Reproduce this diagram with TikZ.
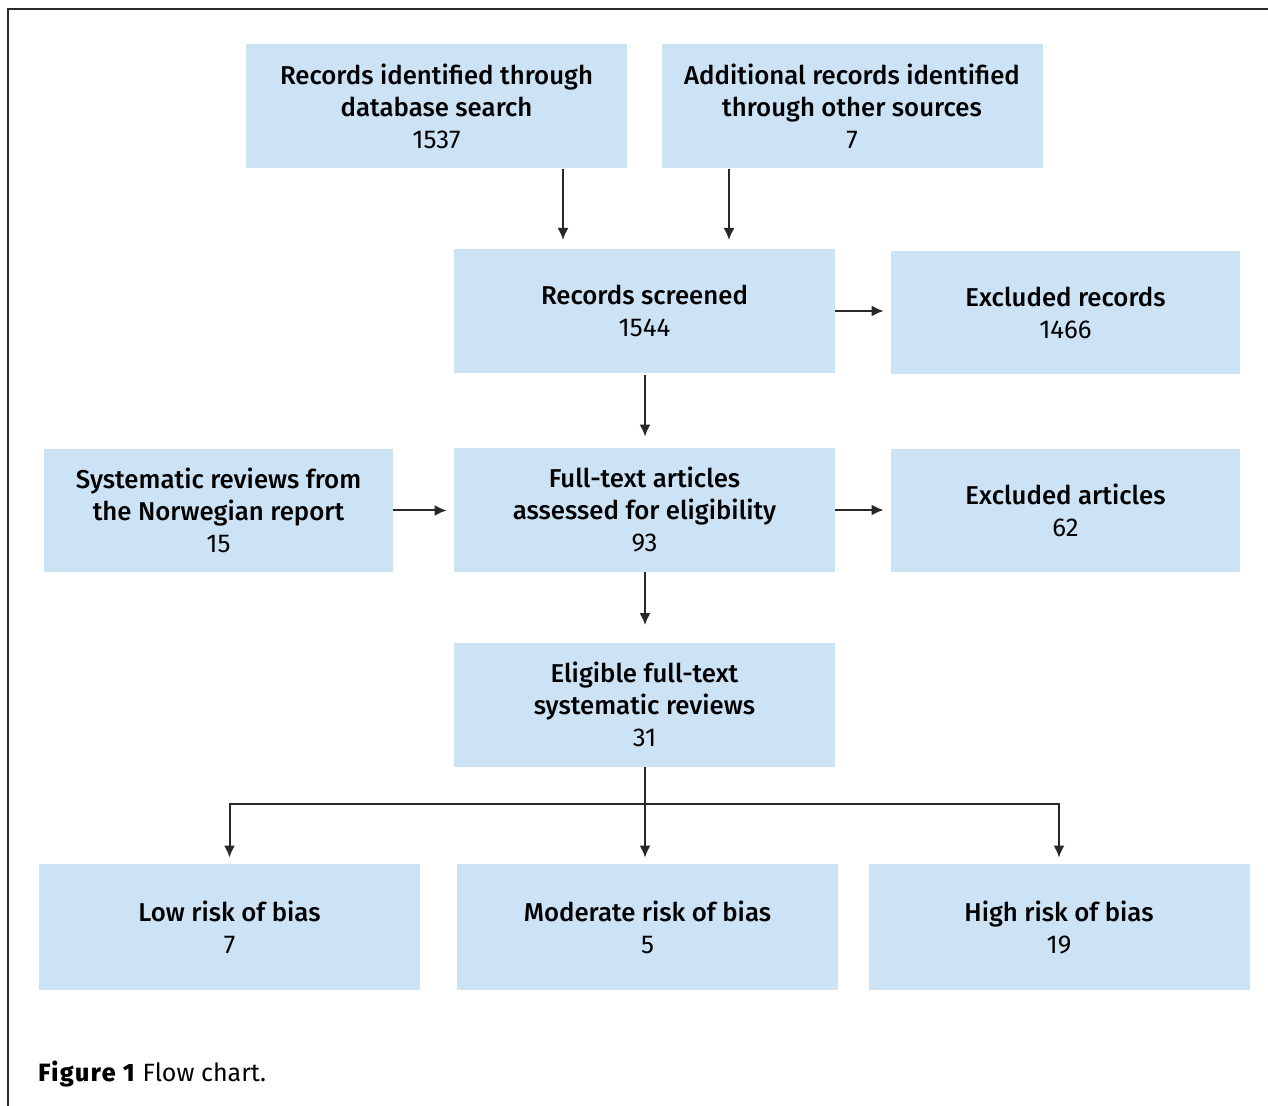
\documentclass[tikz,border=0pt]{standalone}
\usepackage{fontspec}
\setmainfont{Fira Sans}
\newfontfamily\semifont{Fira Sans Medium}
\newfontfamily\capfont{Fira Sans ExtraBold}[LetterSpace=6]
\usetikzlibrary{arrows.meta}
\definecolor{boxblue}{RGB}{204,226,245}
\definecolor{linegray}{RGB}{40,40,40}
\begin{document}
\begin{tikzpicture}[x=0.5pt,y=-0.5pt]
  % Define styles for boxes and arrows
  \tikzset{
    flow box/.style={fill=boxblue, inner sep=0pt, align=center,
      font=\semifont\fontsize{12.9}{16}\selectfont},
    wide box/.style={flow box, minimum width=190.5pt, minimum height=62pt},
    narrow box/.style={flow box, minimum width=174.5pt, minimum height=61.5pt},
    flow arrow/.style={draw=linegray, line width=1pt, -{Latex[length=6pt,width=5.5pt]}},
    frame line/.style={draw=linegray, line width=0.7pt}
  }
  \useasboundingbox (0,0) rectangle (1268,1106);
  \draw[frame line] (8,1106) -- (8,9) -- (1268,9);

  % Top row
  \node[wide box] (rec db) at (436.5,106.5) {Records identified through\\database search\\{\normalfont 1537}};
  \node[wide box] (rec other) at (852,106.5) {Additional records identified\\through other sources\\{\normalfont 7}};

  % Screening
  \node[wide box] (screened) at (644.5,311) {Records screened\\{\normalfont 1544}};
  \node[narrow box] (excl rec) at (1065.5,312.5) {Excluded records\\{\normalfont 1466}};

  % Eligibility
  \node[narrow box] (norway) at (218.5,510.5) {Systematic reviews from\\the Norwegian report\\{\normalfont 15}};
  \node[wide box] (fulltext) at (644.5,510) {Full-text articles\\assessed for eligibility\\{\normalfont 93}};
  \node[narrow box] (excl art) at (1065.5,510.5) {Excluded articles\\{\normalfont 62}};

  % Included
  \node[wide box] (eligible) at (644.5,704.5) {Eligible full-text\\systematic reviews\\{\normalfont 31}};

  % Risk of bias
  \node[wide box, minimum height=63pt] (low) at (229.5,927) {Low risk of bias\\{\normalfont 7}};
  \node[wide box, minimum height=63pt] (moderate) at (647.5,927) {Moderate risk of bias\\{\normalfont 5}};
  \node[wide box, minimum height=63pt] (high) at (1059,927) {High risk of bias\\{\normalfont 19}};

  % Connectors
  \coordinate (in1) at (563,250);
  \coordinate (in2) at (729,250);
  \coordinate (split) at (645,804);
  \draw[flow arrow, shorten >=5pt] (in1 |- rec db.south) -- (in1);
  \draw[flow arrow, shorten >=5pt] (in2 |- rec other.south) -- (in2);
  \draw[flow arrow, shorten >=3.5pt] (screened.east) -- (excl rec.west |- screened.east);
  \draw[flow arrow, shorten <=1pt, shorten >=5.5pt] (screened.south -| split) -- (fulltext.north -| split);
  \draw[flow arrow, shorten >=3.5pt] (norway.east) -- (fulltext.west |- norway.east);
  \draw[flow arrow, shorten >=3.5pt] (fulltext.east) -- (excl art.west |- fulltext.east);
  \draw[flow arrow, shorten >=8.5pt] (fulltext.south -| split) -- (eligible.north -| split);
  \draw[flow arrow, shorten >=3pt] (eligible.south -| split) -- (moderate.north -| split);
  \draw[flow arrow, shorten >=3pt] (split) -| (low.north);
  \draw[flow arrow, shorten >=3pt] (split) -| (high.north);

  % Caption
  \node[anchor=base west, inner sep=0pt, font=\fontsize{12.5}{14}\selectfont] (caption) at (38,1081)
    {{\capfont Figure 1}\hspace{4pt}Flow chart.};
\end{tikzpicture}
\end{document}
